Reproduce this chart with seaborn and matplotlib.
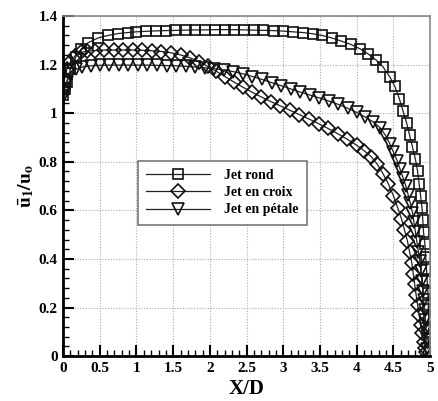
import pandas as pd
import seaborn as sns
import matplotlib.pyplot as plt
from matplotlib.ticker import MultipleLocator

# Jet rond (squares)
rond_x = [0.0, 0.02, 0.05, 0.1, 0.17, 0.25, 0.34, 0.48, 0.61, 0.75, 0.88, 1.0, 1.13, 1.27,
          1.4, 1.53, 1.67, 1.8, 1.93, 2.07, 2.2, 2.33, 2.47, 2.6, 2.73, 2.87, 3.0, 3.13,
          3.27, 3.4, 3.53, 3.66, 3.79, 3.92, 4.04, 4.15, 4.26, 4.36, 4.45, 4.52, 4.58,
          4.63, 4.68, 4.72, 4.76, 4.8, 4.83, 4.85, 4.87, 4.89, 4.9, 4.91, 4.93, 4.94,
          4.95, 4.96, 4.97, 4.975, 4.98, 4.99, 5.0]
rond_y = [1.075, 1.1, 1.13, 1.18, 1.23, 1.265, 1.29, 1.31, 1.32, 1.328, 1.332, 1.335, 1.337,
          1.339, 1.34, 1.341, 1.342, 1.343, 1.343, 1.344, 1.344, 1.344, 1.343, 1.342, 1.341,
          1.34, 1.338, 1.335, 1.332, 1.327, 1.32, 1.31, 1.297, 1.283, 1.266, 1.245, 1.22,
          1.19, 1.15, 1.11, 1.06, 1.01, 0.96, 0.91, 0.86, 0.81, 0.76, 0.71, 0.66, 0.61,
          0.56, 0.51, 0.46, 0.41, 0.36, 0.31, 0.26, 0.21, 0.16, 0.11, 0.06]

# Jet en croix (diamonds)
croix_x = [0.0, 0.02, 0.05, 0.1, 0.16, 0.24, 0.33, 0.44, 0.56, 0.69, 0.82, 0.95, 1.08, 1.21,
           1.34, 1.47, 1.6, 1.73, 1.85, 1.97, 2.09, 2.21, 2.33, 2.45, 2.57, 2.7, 2.83, 2.96,
           3.09, 3.22, 3.35, 3.48, 3.61, 3.74, 3.87, 4.0, 4.1, 4.2, 4.28, 4.36, 4.43, 4.5,
           4.56, 4.61, 4.65, 4.69, 4.72, 4.75, 4.77, 4.79, 4.81, 4.83, 4.85, 4.87, 4.89,
           4.91, 4.93, 4.95]
croix_y = [1.1, 1.14, 1.18, 1.21, 1.235, 1.25, 1.255, 1.258, 1.26, 1.26, 1.26, 1.26, 1.259,
           1.257, 1.254, 1.249, 1.24, 1.228, 1.212, 1.193, 1.172, 1.15, 1.128, 1.107, 1.087,
           1.067, 1.048, 1.03, 1.012, 0.994, 0.976, 0.957, 0.937, 0.916, 0.893, 0.868, 0.846,
           0.82, 0.79, 0.75, 0.71, 0.66, 0.61, 0.565, 0.52, 0.475, 0.43, 0.385, 0.34, 0.295,
           0.25, 0.21, 0.17, 0.13, 0.095, 0.06, 0.035, 0.015]

# Jet en petale (triangles)
petale_x = [0.0, 0.02, 0.05, 0.1, 0.17, 0.26, 0.38, 0.5, 0.63, 0.76, 0.89, 1.02, 1.15, 1.28,
            1.41, 1.54, 1.67, 1.8, 1.93, 2.06, 2.19, 2.32, 2.45, 2.58, 2.71, 2.84, 2.97,
            3.1, 3.23, 3.36, 3.49, 3.62, 3.75, 3.88, 4.0, 4.11, 4.22, 4.32, 4.39, 4.45,
            4.5, 4.55, 4.59, 4.63, 4.67, 4.7, 4.73, 4.76, 4.78, 4.8, 4.82, 4.84, 4.86,
            4.875, 4.89, 4.9, 4.91, 4.925, 4.935, 4.945, 4.955, 4.96]
petale_y = [1.065, 1.1, 1.13, 1.16, 1.18, 1.19, 1.195, 1.197, 1.198, 1.198, 1.198, 1.198,
            1.198, 1.197, 1.196, 1.195, 1.193, 1.19, 1.187, 1.183, 1.178, 1.171, 1.162,
            1.151, 1.139, 1.126, 1.113, 1.1, 1.087, 1.075, 1.063, 1.05, 1.036, 1.02, 1.003,
            0.985, 0.965, 0.94, 0.91, 0.875, 0.84, 0.805, 0.77, 0.735, 0.7, 0.665, 0.63,
            0.59, 0.55, 0.51, 0.47, 0.43, 0.39, 0.35, 0.31, 0.27, 0.23, 0.19, 0.15, 0.11,
            0.07, 0.03]

labels = ["Jet rond", "Jet en croix", "Jet en pétale"]

plt.rcParams["font.family"] = "Liberation Serif"
plt.rcParams["font.weight"] = "bold"
plt.rcParams["mathtext.fontset"] = "stix"

fig = plt.figure(figsize=(4.38, 4.01), dpi=100)
ax = fig.add_axes([0.144, 0.112, 0.838, 0.848])

series = [(rond_x, rond_y, "s", 7.5), (croix_x, croix_y, "D", 7.0), (petale_x, petale_y, "v", 8.5)]
for (xs, ys, mk, ms), lab in zip(series, labels):
    df = pd.DataFrame({"x": xs, "y": ys})
    sns.lineplot(data=df, x="x", y="y", sort=False, estimator=None, ax=ax,
                 color="#222222", linewidth=0.9, marker=mk, markersize=ms,
                 markerfacecolor="none", markeredgecolor="#111111",
                 markeredgewidth=1.2, label=lab, legend=False)

ax.set_xlim(0, 5)
ax.set_ylim(0, 1.4)
ax.xaxis.set_major_locator(MultipleLocator(0.5))
ax.xaxis.set_minor_locator(MultipleLocator(0.1))
ax.yaxis.set_major_locator(MultipleLocator(0.2))
ax.yaxis.set_minor_locator(MultipleLocator(0.04))
ax.set_xticks([0, 0.5, 1, 1.5, 2, 2.5, 3, 3.5, 4, 4.5, 5])
ax.set_xticklabels(["0", "0.5", "1", "1.5", "2", "2.5", "3", "3.5", "4", "4.5", "5"])
ax.set_yticks([0, 0.2, 0.4, 0.6, 0.8, 1.0, 1.2, 1.4])
ax.set_yticklabels(["0", "0.2", "0.4", "0.6", "0.8", "1", "1.2", "1.4"])
ax.tick_params(which="major", direction="in", length=8, width=1.5, labelsize=11, pad=4,
               top=False, right=False)
ax.tick_params(which="minor", direction="in", length=4, width=1.0, top=False, right=False)
ax.grid(True, which="major", color="#aaaaaa", linestyle=(0, (1, 1.5)), linewidth=0.8)

for side in ["left", "bottom"]:
    ax.spines[side].set_linewidth(2)
    ax.spines[side].set_color("black")
for side in ["top", "right"]:
    ax.spines[side].set_linewidth(1.2)
    ax.spines[side].set_color("#888888")

ax.set_xlabel("X/D", fontsize=15, fontweight="bold", labelpad=3)
ax.set_ylabel(r"$\mathbf{\bar{u}_1/u_o}$", fontsize=14, labelpad=2)

leg = ax.legend(loc="upper left", bbox_to_anchor=(0.185, 0.595), fancybox=False,
                edgecolor="#777777", framealpha=1, fontsize=10, handlelength=4.6,
                borderpad=0.6, labelspacing=0.3, handletextpad=1.0)
leg.get_frame().set_linewidth(1.2)

fig.savefig("out.png", dpi=100)
